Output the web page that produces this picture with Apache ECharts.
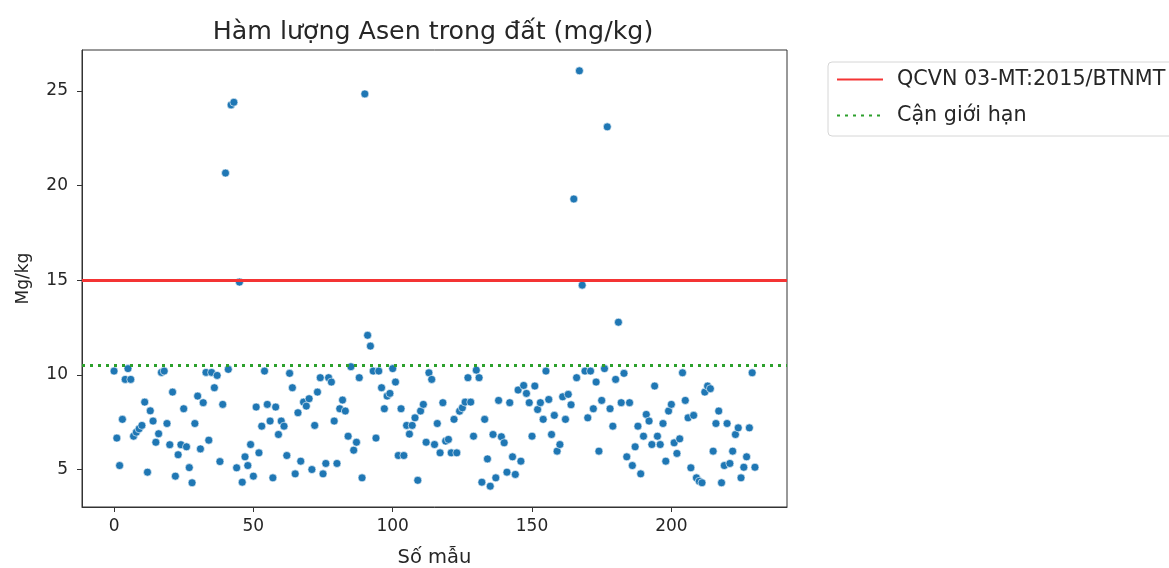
<!DOCTYPE html>
<html><head><meta charset="utf-8">
<script src="https://cdn.jsdelivr.net/npm/echarts@6/dist/echarts.min.js"></script>
<style>html,body{margin:0;padding:0;background:#fff}#c{width:1169px;height:568px}</style>
</head><body><div id="c"></div>
<script>
const arsenic = [
10.2,6.66,5.21,7.65,9.76,10.33,9.76,6.76,6.97,7.15,
7.33,8.56,4.86,8.1,7.56,6.44,6.89,10.13,10.2,7.43,
6.31,9.09,4.65,5.78,6.31,8.21,6.2,5.1,4.3,7.43,
8.88,6.09,8.53,10.13,6.55,10.13,9.32,9.97,5.42,8.44,
20.66,10.29,24.26,24.4,5.09,14.9,4.33,5.67,5.21,6.32,
4.65,8.3,5.88,7.29,10.2,8.44,7.56,4.56,8.3,6.85,
7.56,7.29,5.74,10.08,9.32,4.77,8.0,5.44,8.56,8.35,
8.74,5.0,7.33,9.09,9.85,4.77,5.32,9.85,9.62,7.56,
5.32,8.21,8.67,8.09,6.76,10.43,6.02,6.44,9.85,4.56,
24.84,12.09,11.52,10.2,6.66,10.2,9.32,8.21,8.88,9.02,
10.33,9.62,5.74,8.21,5.74,7.33,6.87,7.33,7.73,4.43,
8.09,8.44,6.44,10.11,9.76,6.32,7.43,5.88,8.53,6.5,
6.59,5.88,7.65,5.88,8.08,8.26,8.56,9.85,8.56,6.76,
10.25,9.85,4.33,7.65,5.56,4.12,6.85,4.56,8.65,6.73,
6.41,4.86,8.53,5.67,4.74,9.2,5.44,9.44,9.02,8.53,
6.76,9.41,8.17,8.53,7.65,10.2,8.7,6.85,7.86,5.97,
6.32,8.84,7.65,8.97,8.42,19.29,9.85,26.06,14.74,10.2,
7.73,10.2,8.21,9.62,5.97,8.65,10.33,23.1,8.21,7.29,
9.76,12.78,8.53,10.08,5.67,8.53,5.21,6.2,7.29,4.77,
6.76,7.91,7.56,6.32,9.41,6.76,6.32,7.43,5.44,8.09,
8.44,6.41,5.85,6.62,10.11,8.65,7.73,5.09,7.86,4.56,
4.38,4.3,9.09,9.41,9.27,5.97,7.43,8.09,4.3,5.21,
7.43,5.32,5.97,6.85,7.2,4.56,5.12,5.67,7.2,10.11,
5.12
];
const sampleIndex = arsenic.map((_, i) => i);
const qcvnLimit = 15;
const nearLimit = 10.5;
const xTicks = [0, 50, 100, 150, 200];
const yTicks = [5, 10, 15, 20, 25];
const seriesNames = ['QCVN 03-MT:2015/BTNMT', 'Cận giới hạn'];

const points = sampleIndex.map((x, i) => [x, arsenic[i]]);
const font = 'DejaVu Sans';
const txt = '#262626';
const chart = echarts.init(document.getElementById('c'), null, {renderer: 'canvas'});
chart.setOption({
  animation: false,
  textStyle: {fontFamily: font},
  title: {
    text: 'Hàm lượng Asen trong đất (mg/kg)',
    left: 428, top: 15, textAlign: 'center',
    textStyle: {fontFamily: font, fontSize: 25.3, fontWeight: 'normal', color: txt}
  },
  grid: {left: 82, right: 382, top: 50, bottom: 61, show: true, borderColor: '#333', borderWidth: 1,
    containLabel: false, outerBoundsMode: 'none'},
  legend: {
    orient: 'vertical', left: 828, top: 62,
    data: seriesNames.map(n => ({name: n, itemStyle: {opacity: 0}})),
    itemWidth: 46, itemHeight: 20, itemGap: 15,
    padding: [7, 10, 10, 8],
    borderColor: '#d6d6d6', borderWidth: 1, borderRadius: 4,
    textStyle: {fontFamily: font, fontSize: 20.7, color: txt, padding: [0, 0, 0, 9]}
  },
  xAxis: {
    type: 'value', min: -11.5, max: 241.5,
    name: 'Số mẫu', nameLocation: 'middle', nameGap: 41,
    nameTextStyle: {fontFamily: font, fontSize: 19.5, color: txt},
    axisLine: {show: true, onZero: false, lineStyle: {color: '#333'}},
    axisTick: {show: true, length: 5, customValues: xTicks, lineStyle: {color: '#333'}},
    axisLabel: {customValues: xTicks, fontFamily: font, fontSize: 17, color: txt, margin: 11},
    splitLine: {show: false}
  },
  yAxis: {
    type: 'value', min: 3.02, max: 27.16,
    name: 'Mg/kg', nameLocation: 'middle', nameGap: 50, nameRotate: 90,
    nameTextStyle: {fontFamily: font, fontSize: 17, color: txt},
    axisLine: {show: true, onZero: false, lineStyle: {color: '#333'}},
    axisTick: {show: true, length: 5, customValues: yTicks, lineStyle: {color: '#333'}},
    axisLabel: {customValues: yTicks, fontFamily: font, fontSize: 17, color: txt, margin: 14},
    splitLine: {show: false}
  },
  series: [
    {
      name: 'samples', type: 'scatter', data: points, symbolSize: 8, z: 3,
      itemStyle: {color: '#1f77b4', borderColor: '#ffffff', borderWidth: 0.6, opacity: 1}
    },
    {
      name: seriesNames[0], type: 'line', data: [], symbol: 'none',
      lineStyle: {color: '#f43434', width: 3},
      itemStyle: {color: '#f43434'},
      markLine: {silent: true, symbol: 'none', label: {show: false},
        lineStyle: {color: '#f43434', width: 3, type: 'solid'},
        data: [{yAxis: qcvnLimit}]}
    },
    {
      name: seriesNames[1], type: 'line', data: [], symbol: 'none',
      lineStyle: {color: '#2ca02c', width: 3, type: [3, 5]},
      itemStyle: {color: '#2ca02c'},
      markLine: {silent: true, symbol: 'none', label: {show: false},
        lineStyle: {color: '#2ca02c', width: 3, type: [3, 5]},
        data: [{yAxis: nearLimit}]}
    }
  ]
});
</script></body></html>
